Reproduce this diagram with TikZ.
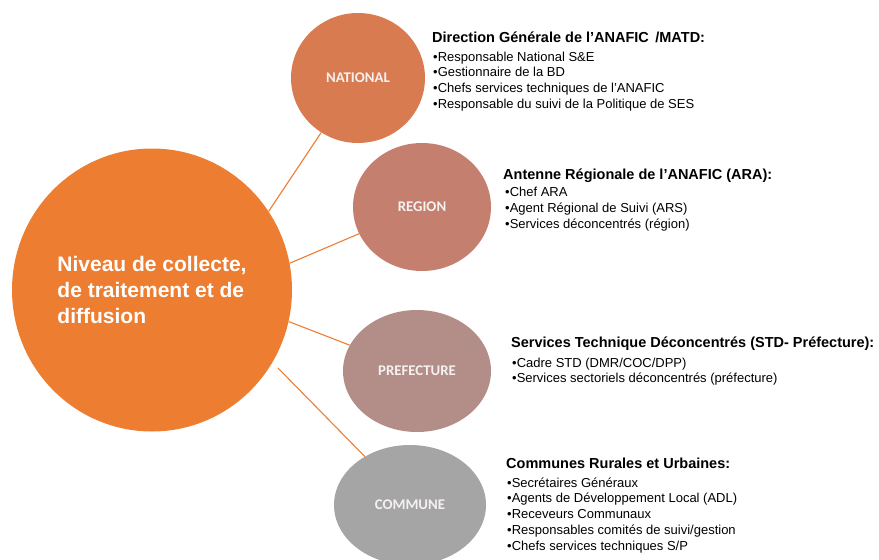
\documentclass[tikz,border=0pt]{standalone}
\usepackage{fontspec}
\setmainfont{Liberation Sans}
\newfontfamily\lblfont{Carlito}
\usetikzlibrary{shapes.geometric}
\definecolor{cBig}{HTML}{ED7D31}
\definecolor{cNat}{HTML}{D97B51}
\definecolor{cReg}{HTML}{C47F6F}
\definecolor{cPref}{HTML}{B38E88}
\definecolor{cCom}{HTML}{A5A5A5}
\definecolor{cLbl}{HTML}{F4F1F0}
\begin{document}
\begin{tikzpicture}[x=1pt,y=-1pt,
  lvl/.style={ellipse, inner sep=0pt, text=cLbl, font=\lblfont\bfseries\fontsize{14.8}{17}\selectfont},
  conn/.style={draw=cBig, line width=1.1pt},
  ttl/.style={anchor=base west, inner sep=0pt, font=\bfseries\fontsize{14.5}{17}\selectfont},
  itm/.style={anchor=north west, inner sep=0pt, align=left, font=\fontsize{13}{15.8}\selectfont}]
\useasboundingbox (0,0) rectangle (879,560);
\node[ellipse, fill=cBig, inner sep=0pt, minimum width=280pt, minimum height=283pt, text=white, align=left,
  font=\bfseries\fontsize{21}{26.2}\selectfont] (big) at (152,290) {Niveau de collecte,\\de traitement et de\\diffusion};
\node[lvl, fill=cNat, minimum width=134pt, minimum height=130pt] (nat) at (358,78) {NATIONAL};
\node[lvl, fill=cReg, minimum width=138pt, minimum height=128pt] (reg) at (422,207) {REGION};
\node[lvl, fill=cPref, minimum width=148pt, minimum height=122pt] (pref) at (417,371) {PREFECTURE};
\node[lvl, fill=cCom, minimum width=152pt, minimum height=120pt] (com) at (410,505) {COMMUNE};
\draw[conn] (big.34) -- (nat.236.5);
\draw[conn] (big.11) -- (reg.203.6);
\draw[conn] (big.-13.5) -- (pref.159);
\draw[conn, shorten <=8pt] (big.-31) -- (com.133.8);
% texts
\node[ttl] (t1) at (432,42) {Direction Générale de l’ANAFIC \,/MATD:};
\node[itm] (i1) at (433,51.5) {•Responsable National S\&E\\•Gestionnaire de la BD\\•Chefs services techniques de l’ANAFIC\\•Responsable du suivi de la Politique de SES};
\node[ttl] (t2) at (503,179.3) {Antenne Régionale de l’ANAFIC (ARA):};
\node[itm] (i2) at (505,186.8) {•Chef ARA\\•Agent Régional de Suivi (ARS)\\•Services déconcentrés (région)};
\node[ttl] (t3) at (511,347) {Services Technique Déconcentrés (STD- Préfecture):};
\node[itm] (i3) at (512,357.4) {•Cadre STD (DMR/COC/DPP)\\•Services sectoriels déconcentrés (préfecture)};
\node[ttl] (t4) at (506,468) {Communes Rurales et Urbaines:};
\node[itm] (i4) at (507,477.4) {•Secrétaires Généraux\\•Agents de Développement Local (ADL)\\•Receveurs Communaux\\•Responsables comités de suivi/gestion\\•Chefs services techniques S/P};
\end{tikzpicture}
\end{document}
